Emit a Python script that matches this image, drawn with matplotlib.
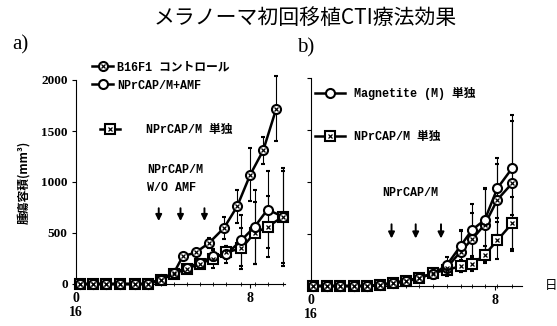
import matplotlib
matplotlib.use('Agg')
import matplotlib.pyplot as plt

# --- data ---
title = 'メラノーマ初回移植CTI療法効果'
ylabel = '腫瘍容積(mm³)'
yticks = [0, 500, 1000, 1500, 2000]
xtick_pos = [0, 8]
xtick_lab = ['0\n16', '8']

# panel a
ctrl_days = [0.2, 0.8, 1.4, 2.0, 2.7, 3.3, 3.9, 4.5, 4.9, 5.5, 6.1, 6.8, 7.4, 8.0, 8.6, 9.2]
ctrl_vol = [0, 0, 0, 0, 0, 0, 40, 110, 270, 310, 400, 550, 760, 1070, 1310, 1720]
ctrl_err = [0, 0, 0, 0, 0, 0, 10, 20, 30, 30, 50, 110, 160, 260, 130, 320]

days_a = [0.2, 0.8, 1.4, 2.0, 2.7, 3.3, 3.9, 4.5, 5.1, 5.7, 6.3, 6.9, 7.6, 8.2, 8.8, 9.5]
amf_vol = [0, 0, 0, 0, 0, 0, 50, 110, 160, 210, 270, 290, 430, 560, 730, 660]
amf_err = [0, 0, 0, 0, 0, 0, 10, 20, 20, 30, 60, 80, 250, 360, 380, 480]
alone_vol = [0, 0, 0, 0, 0, 0, 40, 100, 150, 200, 250, 310, 350, 500, 560, 660]
alone_err = [0, 0, 0, 0, 0, 0, 10, 20, 20, 30, 90, 60, 200, 300, 300, 450]
arrows_a = [3.8, 4.8, 5.9]

# panel b
days_b = [0.1, 0.7, 1.25, 1.85, 2.45, 3.0, 3.55, 4.15, 4.7, 5.3, 5.9, 6.5, 7.0, 7.55, 8.1, 8.75]
mag_vol = [0, 0, 0, 0, 0, 10, 30, 50, 80, 115, 200, 385, 540, 635, 940, 1135]
mag_err = [0, 0, 0, 0, 0, 5, 10, 15, 20, 30, 80, 150, 250, 300, 290, 450]
hat_vol = [0, 0, 0, 0, 0, 10, 30, 50, 80, 120, 175, 330, 450, 590, 830, 990]
hat_err = [0, 0, 0, 0, 0, 5, 10, 15, 20, 30, 60, 200, 250, 350, 340, 650]
sq_vol = [0, 0, 0, 0, 0, 10, 25, 45, 75, 125, 155, 190, 210, 300, 440, 605]
sq_err = [0, 0, 0, 0, 0, 5, 10, 15, 20, 30, 60, 60, 70, 80, 180, 250]
arrows_b = [3.5, 4.55, 5.65]

lab_fam = ['Liberation Mono', 'Noto Sans CJK JP']
num_fam = ['Liberation Serif', 'DejaVu Serif']

fig = plt.figure(figsize=(5.57, 3.26), dpi=100)
axa = fig.add_axes([76/557, 1-284/326, 209/557, 204/326])
axb = fig.add_axes([311/557, 1-286/326, 211/557, 208/326])


def series(ax, x, y, e, marker, cross=None):
    ax.errorbar(x, y, yerr=e, color='black', lw=1.8, elinewidth=0.8, capsize=1.2,
                marker=marker, ms=6.5, mfc='white', mec='black', mew=1.5,
                clip_on=False, zorder=3)
    h = ax.plot([], [], color='black', lw=1.8, marker=marker, ms=6.5, mfc='white',
                mec='black', mew=1.5)[0]
    if cross:
        ax.plot(x, y, ls='none', marker=cross, ms=3.5, mec='black', mew=0.9,
                clip_on=False, zorder=4)
        hx = ax.plot([], [], ls='none', marker=cross, ms=3.5, mec='black', mew=0.9)[0]
        return (h, hx)
    return h


h_alone = series(axa, days_a, alone_vol, alone_err, 's', 'x')
h_amf = series(axa, days_a, amf_vol, amf_err, 'o')
h_ctrl = series(axa, ctrl_days, ctrl_vol, ctrl_err, 'o', 'x')

h_sq = series(axb, days_b, sq_vol, sq_err, 's', 'x')
series(axb, days_b, hat_vol, hat_err, 'o', 'x')
h_mag = series(axb, days_b, mag_vol, mag_err, 'o')

for ax, xmax, days in [(axa, 9.6, days_a), (axb, 9.17, days_b)]:
    ax.set_xlim(0, xmax)
    ax.set_ylim(0, 2000)
    ax.spines['top'].set_visible(False)
    ax.spines['right'].set_visible(False)
    ax.set_yticks(yticks)
    ax.set_xticks(xtick_pos)
    ax.set_xticks(days, minor=True)
    ax.tick_params(axis='both', which='major', direction='out', length=3, width=0.8, pad=3)
    ax.tick_params(axis='x', which='minor', direction='inout', length=3, width=0.6)
    ax.set_xticklabels(xtick_lab, fontfamily=num_fam, fontweight='bold', fontsize=10,
                       linespacing=1.1)

axa.set_yticklabels([str(v) for v in yticks], fontfamily=num_fam, fontweight='bold',
                    fontsize=9.5)
axb.set_yticklabels([])
axa.set_ylabel(ylabel, fontfamily=['Noto Sans CJK JP'], fontsize=8.5, fontweight='bold',
               labelpad=8)

fig.text(0.548, 0.945, title, ha='center', va='center', fontsize=15,
         fontfamily=['Noto Sans CJK JP'])
fig.text(12/557, 1-45/326, 'a)', ha='left', va='center', fontsize=15, fontfamily=num_fam)
fig.text(297/557, 1-48/326, 'b)', ha='left', va='center', fontsize=15, fontfamily=num_fam)
axb.text(1.14, 0.0, '日', transform=axb.transAxes, ha='center', va='center',
         fontsize=9, fontfamily=['Noto Sans CJK JP'])

prop = dict(family=lab_fam, weight='bold', size=8.5)
leg1 = axa.legend([h_ctrl, h_amf], ['B16F1 コントロール', 'NPrCAP/M+AMF'],
                  loc='upper left', bbox_to_anchor=(0.077, 1.093), frameon=False,
                  borderpad=0, borderaxespad=0, handlelength=1.8, handletextpad=0.3,
                  labelspacing=0.55, prop=prop)
axa.add_artist(leg1)
axa.legend([h_alone], ['NPrCAP/M 単独'],
           loc='upper left', bbox_to_anchor=(0.115, 0.784), frameon=False,
           borderpad=0, borderaxespad=0, handlelength=1.7, handletextpad=2.2, prop=prop)
axb.legend([h_mag, h_sq], ['Magnetite (M) 単独', 'NPrCAP/M 単独'],
           loc='upper left', bbox_to_anchor=(0.02, 0.957), frameon=False,
           borderpad=0, borderaxespad=0, handlelength=2.5, handletextpad=0.8,
           labelspacing=2.6, prop=prop)

axa.text(3.26, 1117, 'NPrCAP/M', ha='left', va='center', fontfamily=lab_fam,
         fontweight='bold', fontsize=8.5)
axa.text(3.26, 941, 'W/O AMF', ha='left', va='center', fontfamily=lab_fam,
         fontweight='bold', fontsize=8.5)
axb.text(3.09, 895, 'NPrCAP/M', ha='left', va='center', fontfamily=lab_fam,
         fontweight='bold', fontsize=8.5)

for ax, arr, top, bot in [(axa, arrows_a, 770, 590), (axb, arrows_b, 620, 430)]:
    for d in arr:
        ax.annotate('', xy=(d, bot), xytext=(d, top),
                    arrowprops=dict(arrowstyle='-|>', color='black', lw=1.4,
                                    mutation_scale=9))

fig.savefig('out.png', dpi=100)
